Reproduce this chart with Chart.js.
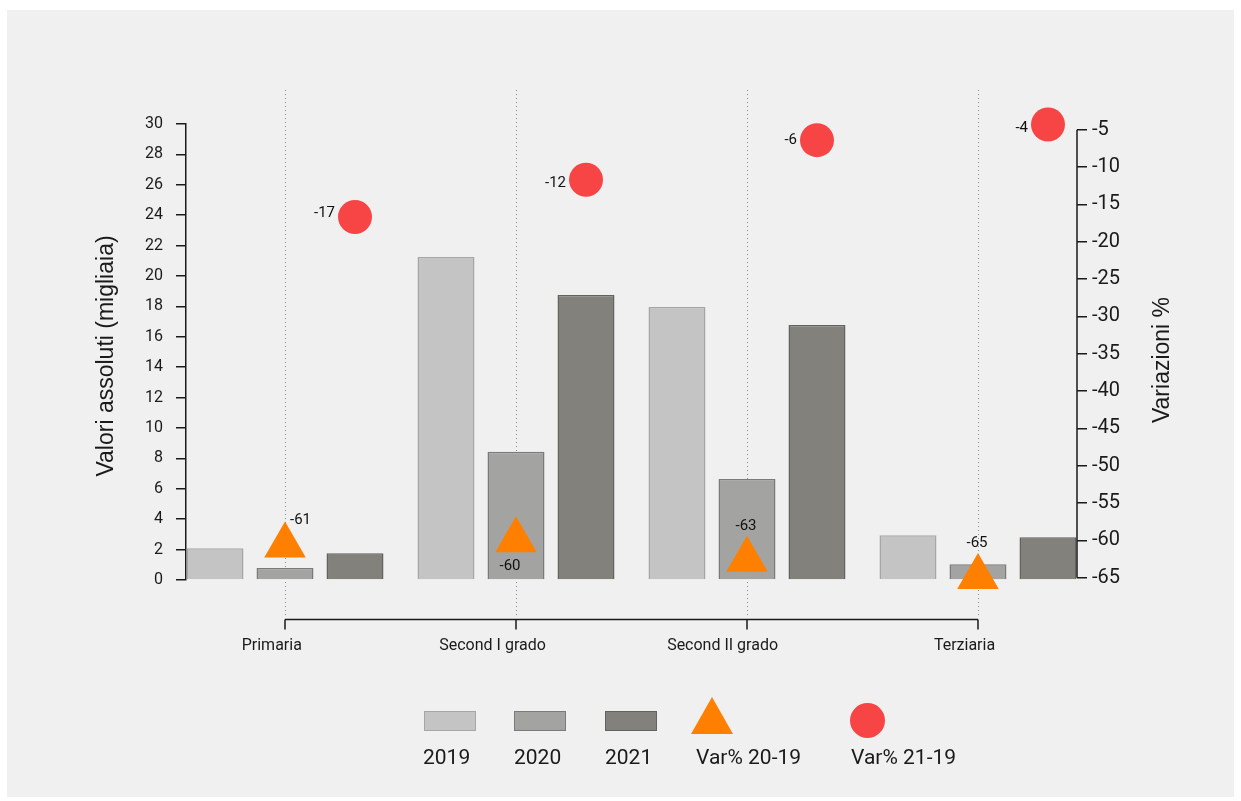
<!DOCTYPE html>
<html>
<head>
<meta charset="utf-8">
<script src="https://cdn.jsdelivr.net/npm/chart.js@4/dist/chart.umd.min.js"></script>
<style>
html,body{margin:0;padding:0;background:#fff;width:1241px;height:801px;overflow:hidden;font-family:Roboto,sans-serif}
#panel{position:absolute;left:7px;top:10px;width:1227px;height:787px;background:#f0f0f0}
#wrap{position:absolute;left:0;top:0;width:1241px;height:801px}
.lgt{position:absolute;font-size:21px;line-height:21px;color:#1a1a1a;white-space:nowrap;top:747px}
.lgb{position:absolute;top:711px;width:50px;height:18px;border:1.6px solid #999}
.tri{position:absolute;width:0;height:0;border-left:21px solid transparent;border-right:21px solid transparent;border-bottom:37px solid #ff8000;left:691px;top:697px}
.dot{position:absolute;width:35px;height:35px;border-radius:50%;background:#f74545;left:850px;top:703px}
</style>
</head>
<body>
<div id="panel"></div>
<div id="wrap"><canvas id="c" width="1241" height="801"></canvas></div>
<div id="legend">
  <div class="lgb" style="left:424px;background:#c4c4c4;border-color:#a6a6a6"></div>
  <div class="lgb" style="left:514px;background:#a3a3a1;border-color:#7a7a7a"></div>
  <div class="lgb" style="left:605px;background:#82817c;border-color:#63625e"></div>
  <div class="tri"></div>
  <div class="dot"></div>
  <div class="lgt" style="left:423px">2019</div>
  <div class="lgt" style="left:514px">2020</div>
  <div class="lgt" style="left:605px">2021</div>
  <div class="lgt" style="left:696px">Var% 20-19</div>
  <div class="lgt" style="left:851px">Var% 21-19</div>
</div>
<script>
// ---- data ----
const categories = ['Primaria', 'Second I grado', 'Second II grado', 'Terziaria'];
const values2019 = [2.09, 21.25, 17.96, 2.94];
const values2020 = [0.79, 8.44, 6.64, 1.03];
const values2021 = [1.76, 18.75, 16.78, 2.81];
const var20vs19 = [-60.7, -60.0, -62.6, -64.9];
const var21vs19 = [-16.7, -11.7, -6.4, -4.3];
const leftTicks = [0, 2, 4, 6, 8, 10, 12, 14, 16, 18, 20, 22, 24, 26, 28, 30];
const rightTicks = [-65, -60, -55, -50, -45, -40, -35, -30, -25, -20, -15, -10, -5];

// label placement (style only)
const triLabelPlacement = ['topright', 'below', 'above', 'above'];
const circleLabelNudgeY = [-4, 4, 0, 4];

const categoryPercentage = 0.9091;
const barPercentage = 0.814;
const groupOffset = categoryPercentage / 3; // centre of the third bar relative to the group centre
const xLabelHjust = 0.72;

const barData = vals => vals.map((v, i) => ({ x: i, y: v }));

const decor = {
  id: 'decor',
  beforeDatasetsDraw(chart) {
    const { ctx, scales: { x }, chartArea } = chart;
    ctx.save();
    ctx.strokeStyle = '#8a8a8a';
    ctx.lineWidth = 1;
    ctx.setLineDash([1, 3]);
    categories.forEach((c, i) => {
      const px = Math.round(x.getPixelForValue(i)) + 0.5;
      ctx.beginPath();
      ctx.moveTo(px, chartArea.top - 34);
      ctx.lineTo(px, chartArea.bottom + 35);
      ctx.stroke();
    });
    ctx.restore();
  },
  afterDraw(chart) {
    const { ctx, scales: { x, y2 }, chartArea } = chart;
    ctx.save();
    ctx.strokeStyle = '#1a1a1a';
    ctx.lineWidth = 1.5;
    // x axis line with downward ticks
    const ay = chartArea.bottom + 39.5;
    const x0 = x.getPixelForValue(0), x3 = x.getPixelForValue(categories.length - 1);
    ctx.beginPath();
    ctx.moveTo(x0, ay); ctx.lineTo(x3, ay);
    categories.forEach((c, i) => {
      const px = x.getPixelForValue(i);
      ctx.moveTo(px, ay); ctx.lineTo(px, ay + 10);
    });
    ctx.stroke();
    // x category labels
    ctx.fillStyle = '#1a1a1a';
    ctx.font = '16px Roboto, sans-serif';
    ctx.textAlign = 'left';
    ctx.textBaseline = 'middle';
    categories.forEach((c, i) => {
      const px = x.getPixelForValue(i);
      const w = ctx.measureText(c).width;
      ctx.fillText(c, px - w * xLabelHjust, ay + 26);
    });
    // right axis line
    const rx = chartArea.right;
    ctx.beginPath();
    ctx.moveTo(rx, y2.getPixelForValue(rightTicks[0]));
    ctx.lineTo(rx, y2.getPixelForValue(rightTicks[rightTicks.length - 1]));
    ctx.stroke();

    // axis titles
    ctx.font = '23px "Liberation Sans", Arial, sans-serif';
    ctx.textAlign = 'center';
    ctx.textBaseline = 'middle';
    ctx.save();
    ctx.translate(107, 356);
    ctx.rotate(-Math.PI / 2);
    ctx.fillText('Valori assoluti (migliaia)', 0, 0);
    ctx.restore();
    ctx.save();
    ctx.translate(1163, 360);
    ctx.rotate(-Math.PI / 2);
    ctx.fillText('Variazioni %', 0, 0);
    ctx.restore();

    // data labels
    ctx.font = '15px Roboto, sans-serif';
    ctx.fillStyle = '#111';
    const triMeta = chart.getDatasetMeta(3);
    triMeta.data.forEach((pt, i) => {
      const r = 24;
      const txt = String(Math.round(var20vs19[i]));
      const pos = triLabelPlacement[i];
      if (pos === 'topright') {
        ctx.textAlign = 'left';
        ctx.fillText(txt, pt.x + 5, pt.y - r - 1);
      } else if (pos === 'below') {
        ctx.textAlign = 'center';
        ctx.fillText(txt, pt.x - 6, pt.y + r + 2);
      } else {
        ctx.textAlign = 'center';
        ctx.fillText(txt, pt.x - 1, pt.y - r - 10);
      }
    });
    const cirMeta = chart.getDatasetMeta(4);
    cirMeta.data.forEach((pt, i) => {
      const txt = String(Math.round(var21vs19[i]));
      ctx.textAlign = 'right';
      ctx.fillText(txt, pt.x - 20, pt.y + circleLabelNudgeY[i]);
    });
    ctx.restore();
  }
};

new Chart(document.getElementById('c'), {
  type: 'bar',
  data: {
    datasets: [
      { label: '2019', data: barData(values2019), backgroundColor: '#c4c4c4', borderColor: '#a6a6a6', borderWidth: 1.5, order: 1, yAxisID: 'y',
        categoryPercentage, barPercentage },
      { label: '2020', data: barData(values2020), backgroundColor: '#a3a3a1', borderColor: '#7a7a7a', borderWidth: 1.5, order: 1, yAxisID: 'y',
        categoryPercentage, barPercentage },
      { label: '2021', data: barData(values2021), backgroundColor: '#82817c', borderColor: '#63625e', borderWidth: 1.5, order: 1, yAxisID: 'y',
        categoryPercentage, barPercentage },
      { type: 'line', label: 'Var% 20-19', data: var20vs19.map((v, i) => ({ x: i, y: v })), showLine: false, clip: false,
        pointStyle: 'triangle', pointRadius: 24, pointHoverRadius: 24, pointBorderWidth: 0,
        backgroundColor: '#ff8000', borderColor: '#ff8000', yAxisID: 'y2', order: 0 },
      { type: 'line', label: 'Var% 21-19', data: var21vs19.map((v, i) => ({ x: i + groupOffset, y: v })), showLine: false, clip: false,
        pointStyle: 'circle', pointRadius: 17, pointHoverRadius: 17, pointBorderWidth: 0,
        backgroundColor: '#f74545', borderColor: '#f74545', yAxisID: 'y2', order: 0 }
    ]
  },
  options: {
    responsive: false,
    animation: false,
    events: [],
    layout: { padding: { top: 124, left: 0, right: 0, bottom: 0 } },
    plugins: { legend: { display: false }, tooltip: { enabled: false } },
    scales: {
      x: {
        type: 'linear',
        offset: false,
        min: -0.4286, max: 3.4286,
        afterBuildTicks: s => { s.ticks = categories.map((c, i) => ({ value: i })); },
        afterFit: s => { s.height = 221; },
        grid: { display: false, drawTicks: false },
        border: { display: false },
        ticks: { display: false, autoSkip: false, maxRotation: 0 }
      },
      y: {
        position: 'left',
        min: 0, max: 30,
        afterBuildTicks: s => { s.ticks = leftTicks.map(v => ({ value: v })); },
        afterFit: s => { s.width = 186; },
        grid: { drawOnChartArea: false, drawTicks: true, tickLength: 10, color: '#1a1a1a', lineWidth: 1.5 },
        border: { display: true, color: '#1a1a1a', width: 1.5 },
        ticks: { padding: 13, color: '#1a1a1a', font: { family: 'Roboto', size: 16 } }
      },
      y2: {
        position: 'right',
        min: -65.308, max: -4.237,
        afterBuildTicks: s => { s.ticks = rightTicks.map(v => ({ value: v })); },
        afterFit: s => { s.width = 164; },
        grid: { drawOnChartArea: false, drawTicks: true, tickLength: 10, color: '#1a1a1a', lineWidth: 1.5 },
        border: { display: false },
        ticks: { padding: 5, color: '#1a1a1a', font: { family: 'Roboto', size: 20 } }
      }
    }
  },
  plugins: [decor]
});
</script>
</body>
</html>
